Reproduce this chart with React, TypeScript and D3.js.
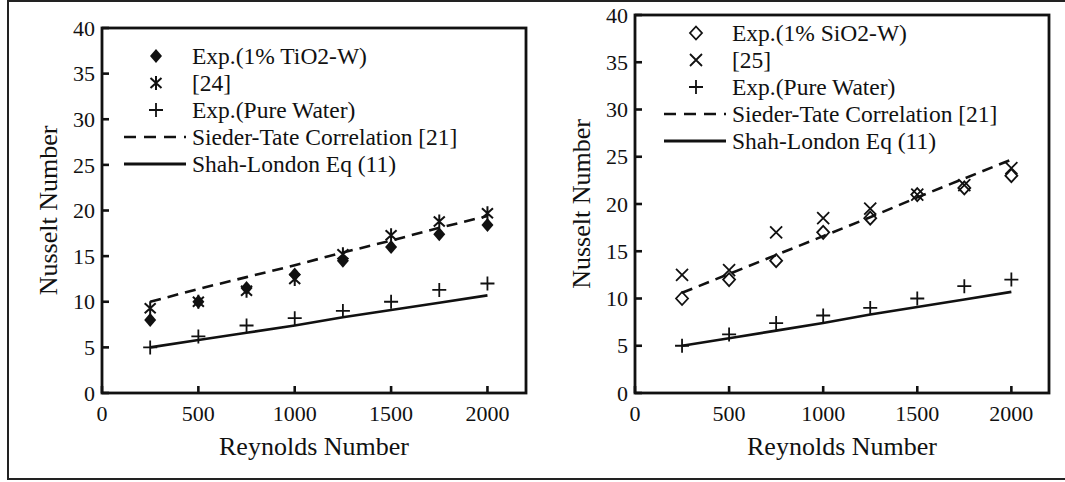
import * as d3 from 'd3';

const reynolds = [250, 500, 750, 1000, 1250, 1500, 1750, 2000];

// left panel (TiO2)
const tio2Exp = [8.0, 10.0, 11.5, 13.0, 14.5, 16.0, 17.4, 18.4];
const ref24 = [9.3, 10.0, 11.2, 12.5, 15.2, 17.3, 18.8, 19.7];
const waterLeft = [5.0, 6.2, 7.4, 8.2, 9.0, 10.0, 11.3, 12.0];
const siederLeft = [10.0, 11.4, 12.7, 14.0, 15.4, 16.7, 18.1, 19.4];
const shahLeft = [5.0, 5.8, 6.6, 7.4, 8.3, 9.1, 9.9, 10.7];

// right panel (SiO2)
const sio2Exp = [10.0, 12.0, 14.0, 17.0, 18.5, 21.0, 21.7, 23.0];
const ref25 = [12.5, 13.0, 17.0, 18.5, 19.5, 21.0, 22.0, 23.8];
const waterRight = [5.0, 6.2, 7.4, 8.2, 9.0, 10.0, 11.3, 12.0];
const siederRight = [10.6, 12.6, 14.6, 16.6, 18.6, 20.7, 22.7, 24.7];
const shahRight = [5.0, 5.8, 6.6, 7.4, 8.3, 9.1, 9.9, 10.7];

const xTicks = [0, 500, 1000, 1500, 2000];
const yTicks = [0, 5, 10, 15, 20, 25, 30, 35, 40];

const leftLegend = ['Exp.(1% TiO2-W)', '[24]', 'Exp.(Pure Water)', 'Sieder-Tate Correlation [21]', 'Shah-London Eq (11)'];
const rightLegend = ['Exp.(1% SiO2-W)', '[25]', 'Exp.(Pure Water)', 'Sieder-Tate Correlation [21]', 'Shah-London Eq (11)'];

const FONT = '"Liberation Serif", "Times New Roman", serif';
const INK = '#111';

type Sym = 'fdiamond' | 'odiamond' | 'plus' | 'cross' | 'asterisk';

const Marker = ({ type, x, y }: { type: Sym; x: number; y: number }) => {
  if (type === 'fdiamond') {
    return <path d={`M${x},${y - 7}L${x + 6},${y}L${x},${y + 7}L${x - 6},${y}Z`} fill={INK} />;
  }
  if (type === 'odiamond') {
    return <path d={`M${x},${y - 6.5}L${x + 6},${y}L${x},${y + 6.5}L${x - 6},${y}Z`} fill="none" stroke={INK} strokeWidth={1.8} />;
  }
  if (type === 'plus') {
    return <path d={`M${x - 7},${y}H${x + 7}M${x},${y - 7}V${y + 7}`} stroke={INK} strokeWidth={1.8} />;
  }
  if (type === 'cross') {
    return <path d={`M${x - 6},${y - 6}L${x + 6},${y + 6}M${x + 6},${y - 6}L${x - 6},${y + 6}`} stroke={INK} strokeWidth={1.8} />;
  }
  return (
    <path
      d={`M${x - 5.5},${y - 5}L${x + 5.5},${y + 5}M${x + 5.5},${y - 5}L${x - 5.5},${y + 5}M${x},${y - 7}V${y + 7}`}
      stroke={INK}
      strokeWidth={2}
    />
  );
};

interface PanelProps {
  left: number;
  right: number;
  top: number;
  bottom: number;
  expA: number[];
  expB: number[];
  water: number[];
  sieder: number[];
  shah: number[];
  symA: Sym;
  symB: Sym;
  legend: string[];
  legendTop: number;
  legendLineX: number;
}

const Panel = (p: PanelProps) => {
  const x = d3.scaleLinear().domain([0, 2200]).range([p.left, p.right]);
  const y = d3.scaleLinear().domain([0, 40]).range([p.bottom, p.top]);
  const line = d3
    .line<number>()
    .x((_, i) => x(reynolds[i]))
    .y((d) => y(d));

  const rowH = 27;
  const lx0 = p.legendLineX;
  const lx1 = lx0 + 62;
  const symX = lx0 + 32;
  const textX = lx0 + 68;
  const legendSyms: (Sym | 'dash' | 'solid')[] = [p.symA, p.symB, 'plus', 'dash', 'solid'];

  return (
    <g>
      {/* model lines */}
      <path d={line(p.sieder) || ''} fill="none" stroke={INK} strokeWidth={2.6} strokeDasharray="11,7" />
      <path d={line(p.shah) || ''} fill="none" stroke={INK} strokeWidth={2.6} />

      {/* markers */}
      {reynolds.map((r, i) => (
        <g key={r}>
          <Marker type={p.symA} x={x(r)} y={y(p.expA[i])} />
          <Marker type={p.symB} x={x(r)} y={y(p.expB[i])} />
          <Marker type="plus" x={x(r)} y={y(p.water[i])} />
        </g>
      ))}

      {/* frame */}
      <rect x={p.left} y={p.top} width={p.right - p.left} height={p.bottom - p.top} fill="none" stroke={INK} strokeWidth={2.8} />

      {/* ticks */}
      {xTicks.map((t) => (
        <g key={'x' + t}>
          <line x1={x(t)} x2={x(t)} y1={p.bottom} y2={p.bottom - 7} stroke={INK} strokeWidth={2.6} />
          <text x={x(t)} y={p.bottom + 28} textAnchor="middle" fontSize={22} fontFamily={FONT} fill={INK}>
            {t}
          </text>
        </g>
      ))}
      {yTicks.map((t) => (
        <g key={'y' + t}>
          <line x1={p.left} x2={p.left + 7} y1={y(t)} y2={y(t)} stroke={INK} strokeWidth={2.6} />
          <text x={p.left - 7} y={y(t)} dy="0.35em" textAnchor="end" fontSize={22} fontFamily={FONT} fill={INK}>
            {t}
          </text>
        </g>
      ))}

      {/* axis titles */}
      <text x={(p.left + p.right) / 2} y={p.bottom + 62} textAnchor="middle" fontSize={26} fontFamily={FONT} fill={INK}>
        Reynolds Number
      </text>
      <text
        transform={`translate(${p.left - 45},${(p.top + p.bottom) / 2}) rotate(-90)`}
        textAnchor="middle"
        fontSize={26}
        fontFamily={FONT}
        fill={INK}
      >
        Nusselt Number
      </text>

      {/* legend */}
      {p.legend.map((label, i) => {
        const cy = p.legendTop + i * rowH;
        const s = legendSyms[i];
        return (
          <g key={label}>
            {s === 'dash' && <line x1={lx0} x2={lx1} y1={cy} y2={cy} stroke={INK} strokeWidth={2.6} strokeDasharray="12,8" />}
            {s === 'solid' && <line x1={lx0} x2={lx1} y1={cy} y2={cy} stroke={INK} strokeWidth={2.8} />}
            {s !== 'dash' && s !== 'solid' && <Marker type={s} x={symX} y={cy} />}
            <text x={textX} y={cy} dy="0.35em" fontSize={23.5} fontFamily={FONT} fill={INK}>
              {label}
            </text>
          </g>
        );
      })}
    </g>
  );
};

export default function App() {
  return (
    <svg width={1065} height={482} style={{ position: 'absolute', left: 0, top: 0, background: '#fff' }}>
      <rect x={0} y={0} width={1065} height={482} fill="#fff" />
      <rect x={8} y={1} width={1070} height={478} fill="none" stroke="#222" strokeWidth={2} />
      <Panel
        left={102}
        right={526}
        top={28}
        bottom={393}
        expA={tio2Exp}
        expB={ref24}
        water={waterLeft}
        sieder={siederLeft}
        shah={shahLeft}
        symA="fdiamond"
        symB="asterisk"
        legend={leftLegend}
        legendTop={56}
        legendLineX={124}
      />
      <Panel
        left={635}
        right={1049}
        top={15}
        bottom={393}
        expA={sio2Exp}
        expB={ref25}
        water={waterRight}
        sieder={siederRight}
        shah={shahRight}
        symA="odiamond"
        symB="cross"
        legend={rightLegend}
        legendTop={33}
        legendLineX={664}
      />
    </svg>
  );
}
